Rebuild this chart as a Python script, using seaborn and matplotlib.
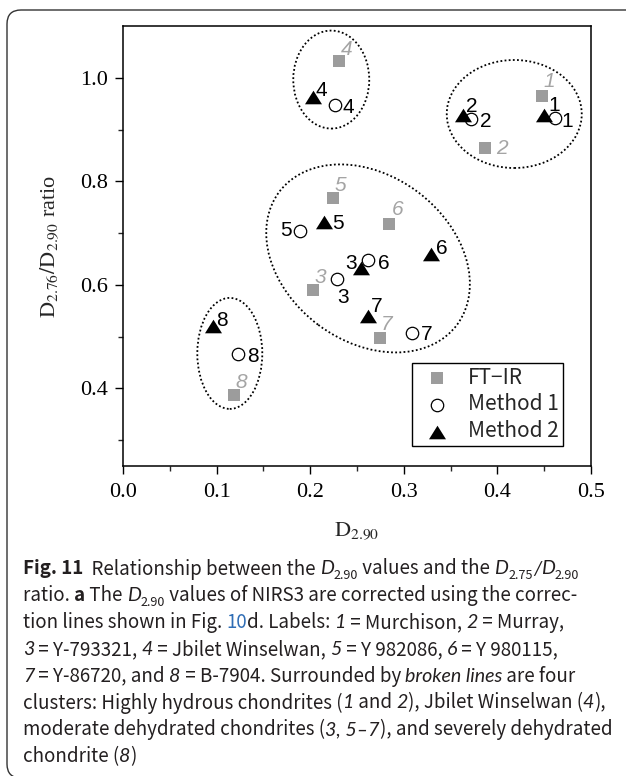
import numpy as np
import pandas as pd
import matplotlib
matplotlib.use("Agg")
import matplotlib.pyplot as plt
import matplotlib.transforms as mtransforms
from matplotlib.patches import Ellipse, FancyBboxPatch
from matplotlib.font_manager import FontProperties
import seaborn as sns

# ---------------- data ----------------
samples = ["1", "2", "3", "4", "5", "6", "7", "8"]
ftir_x = [0.4475, 0.3865, 0.2029, 0.2310, 0.2242, 0.2844, 0.2746, 0.1188]
ftir_y = [0.965, 0.865, 0.590, 1.032, 0.767, 0.718, 0.497, 0.387]
m1_x = [0.4612, 0.3719, 0.2285, 0.2260, 0.1896, 0.2622, 0.3088, 0.1230]
m1_y = [0.922, 0.920, 0.611, 0.948, 0.704, 0.648, 0.507, 0.467]
m2_x = [0.4496, 0.3634, 0.2541, 0.2025, 0.2148, 0.3292, 0.2618, 0.0966]
m2_y = [0.929, 0.928, 0.633, 0.962, 0.722, 0.659, 0.540, 0.520]
series = ["FT\u2212IR", "Method 1", "Method 2"]

x_ticks = [0.0, 0.1, 0.2, 0.3, 0.4, 0.5]
y_ticks = [0.4, 0.6, 0.8, 1.0]

# cluster outline centres (data)
cluster_cx = [0.418, 0.2225, 0.2618, 0.1141]
cluster_cy = [0.930, 0.9965, 0.651, 0.4675]

# ---------------- layout / style ----------------
W, H = 626, 776
cluster_w = [135, 76, 222, 65]
cluster_h = [108, 98, 166, 111]
cluster_ang = [0, 0, -36.8, 0]

# label offsets (pixels, +x right, +y down) from marker centre to digit centre
off_ftir = [(7, -16), (17, -1), (7, -15), (7, -14), (7, -15), (8, -16), (7, -16), (7, -15)]
off_m1 = [(13, 1), (15, 0), (6, 16), (14, 1), (-14, -2), (15, 2), (15, 0), (15, 1)]
off_m2 = [(10, -11), (9, -11), (-10, -6), (9, -9), (14, 0), (11, -8), (9, -11), (9, -8)]

GRAY = "#9c9c9c"
GRAY_TXT = "#a4a4a4"

sns.set_style("ticks")
plt.rcParams["mathtext.fontset"] = "stix"
plt.rcParams["font.family"] = ["Liberation Serif", "DejaVu Sans"]

df = pd.DataFrame({
    "method": np.repeat(series, len(samples)),
    "sample": samples * 3,
    "x": ftir_x + m1_x + m2_x,
    "y": ftir_y + m1_y + m2_y,
})

fig = plt.figure(figsize=(W / 100, H / 100), dpi=100)
ax = fig.add_axes([123 / W, 1 - 466 / H, 468 / W, 440 / H])

tri = [(-1.25, -1.0), (1.25, -1.0), (0.0, 1.0), (-1.25, -1.0)]
styles = {
    series[0]: dict(marker="s", s=75, color=GRAY, edgecolor=GRAY, linewidth=0),
    series[1]: dict(marker="o", s=80, color="white", edgecolor="black", linewidth=0.9),
    series[2]: dict(marker=tri, s=150, color="black", edgecolor="black", linewidth=0),
}
for m in series:
    sub = df[df["method"] == m]
    sns.scatterplot(data=sub, x="x", y="y", ax=ax, label=m, zorder=3, **styles[m])

ax.set_xlim(0.0, 0.5)
ax.set_ylim(0.25, 1.1)
ax.set_xticks(x_ticks)
ax.set_xticklabels([f"{v:.1f}" for v in x_ticks])
ax.set_yticks(y_ticks)
ax.set_yticklabels([f"{v:.1f}" for v in y_ticks])
ax.set_xticks(np.arange(0.05, 0.5, 0.1), minor=True)
ax.set_yticks([0.3, 0.5, 0.7, 0.9], minor=True)
ax.tick_params(axis="both", which="major", direction="out", length=5.5, width=1.0,
               labelsize=16, colors="black")
ax.tick_params(axis="both", which="minor", direction="out", length=3.4, width=1.0)
ax.tick_params(axis="x", which="major", pad=6.5)
ax.tick_params(axis="y", which="major", pad=5.3)
for lab in ax.get_xticklabels() + ax.get_yticklabels():
    lab.set_fontfamily("Liberation Serif")
for sp in ax.spines.values():
    sp.set_visible(True)
    sp.set_linewidth(1.1)
    sp.set_color("black")

ax.set_xlabel(r"$\mathrm{D}_{2.90}$", fontsize=16, labelpad=14)
ax.set_ylabel(r"$\mathrm{D}_{2.76}/\mathrm{D}_{2.90}$ ratio", fontsize=16,
              labelpad=14, fontfamily="Liberation Serif")

# point labels
def label_points(xs, ys, offs, color, style):
    for s, x, y, (dx, dy) in zip(samples, xs, ys, offs):
        ax.annotate(s, (x, y), xytext=(dx, -(dy + 7.5)), textcoords="offset pixels",
                    ha="center", va="baseline", fontsize=15, color=color,
                    fontstyle=style, fontfamily="Liberation Sans", zorder=4)

label_points(ftir_x, ftir_y, off_ftir, GRAY_TXT, "italic")
label_points(m1_x, m1_y, off_m1, "black", "normal")
label_points(m2_x, m2_y, off_m2, "black", "normal")

# cluster outlines
for cx, cy, w, h, a in zip(cluster_cx, cluster_cy, cluster_w, cluster_h, cluster_ang):
    tr = fig.dpi_scale_trans + mtransforms.ScaledTranslation(cx, cy, ax.transData)
    e = Ellipse((0, 0), w / 100, h / 100, angle=a, transform=tr, fill=False,
                edgecolor="black", linewidth=1.3, linestyle=(0, (1, 1.3)), zorder=2)
    ax.add_patch(e)

# legend
leg = ax.legend(loc="upper left", bbox_to_anchor=((411.7 - 123) / 468, (466 - 362.7) / 440),
                borderaxespad=0, frameon=True, fancybox=False, framealpha=1,
                edgecolor="black", prop=FontProperties(family="Noto Sans CJK JP", size=15),
                borderpad=0.2, handlelength=2.0, handletextpad=0.5, labelspacing=0.22)
leg.get_frame().set_linewidth(1.0)

# outer rounded frame
frame = FancyBboxPatch((7 / 100, -2 / 100), 660 / 100, 768 / 100,
                       boxstyle="round,pad=0,rounding_size=0.14",
                       transform=fig.dpi_scale_trans, fill=False,
                       edgecolor="#333333", linewidth=1.0)
fig.patches.append(frame)

# caption (rich text runs)
FS = 13.5
props = {
    "reg": FontProperties(family="Noto Sans CJK JP", size=FS),
    "bold": FontProperties(family="Noto Sans CJK JP", weight="bold", size=FS),
    "it": FontProperties(family="Lato", style="italic", size=FS * 1.05),
    "sub": FontProperties(family="Noto Sans CJK JP", size=FS * 0.68),
    "blue": FontProperties(family="Noto Sans CJK JP", size=FS),
}
colors = {"blue": "#2f6db5"}
renderer = fig.canvas.get_renderer()

def rich_line(runs, x_px, base_px):
    x = x_px
    for txt, st in runs:
        fp = props[st]
        dy = 4.5 if st == "sub" else 0
        fig.text(x / W, 1 - (base_px + dy) / H, txt, fontproperties=fp,
                 color=colors.get(st, "#231f20"), ha="left", va="baseline")
        wb = renderer.get_text_width_height_descent("|", fp, ismath=False)[0]
        wa = renderer.get_text_width_height_descent(txt + "|", fp, ismath=False)[0]
        x += wa - wb

caption = [
    [("Fig. 11", "bold"), ("  Relationship between the ", "reg"), ("D", "it"), ("2.90", "sub"),
     (" values and the ", "reg"), ("D", "it"), ("2.75", "sub"), ("/", "it"), ("D", "it"), ("2.90", "sub")],
    [("ratio. ", "reg"), ("a", "bold"), (" The ", "reg"), ("D", "it"), ("2.90", "sub"),
     (" values of NIRS3 are corrected using the correc-", "reg")],
    [("tion lines shown in Fig. ", "reg"), ("10", "blue"), ("d. Labels: ", "reg"), ("1", "it"),
     (" = Murchison, ", "reg"), ("2", "it"), (" = Murray,", "reg")],
    [("3", "it"), (" = Y-793321, ", "reg"), ("4", "it"), (" = Jbilet Winselwan, ", "reg"),
     ("5", "it"), (" = Y 982086, ", "reg"), ("6", "it"), (" = Y 980115,", "reg")],
    [("7", "it"), (" = Y-86720, and ", "reg"), ("8", "it"), (" = B-7904. Surrounded by ", "reg"),
     ("broken lines", "it"), (" are four", "reg")],
    [("clusters: Highly hydrous chondrites (", "reg"), ("1", "it"), (" and ", "reg"), ("2", "it"),
     ("), Jbilet Winselwan (", "reg"), ("4", "it"), ("),", "reg")],
    [("moderate dehydrated chondrites (", "reg"), ("3, 5\u20137", "it"),
     ("), and severely dehydrated", "reg")],
    [("chondrite (", "reg"), ("8", "it"), (")", "reg")],
]
baselines = [574.5, 601.3, 628.1, 654.9, 681.7, 708.5, 735.3, 762.1]
for runs, b in zip(caption, baselines):
    rich_line(runs, 23, b)

fig.savefig("out.png", dpi=100)
